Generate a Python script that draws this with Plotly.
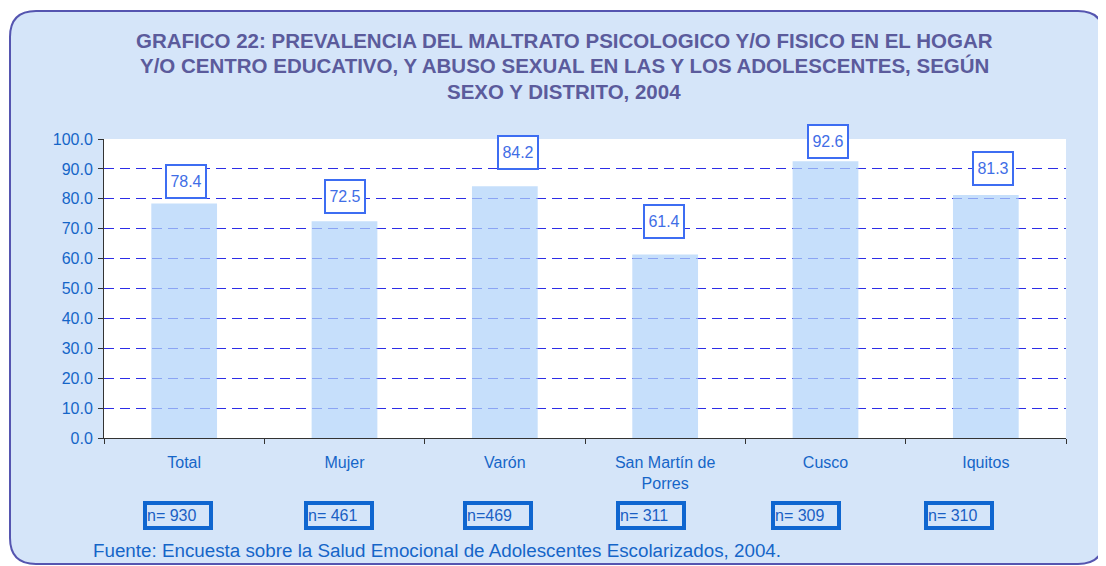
import plotly.graph_objects as go

categories = ["Total", "Mujer", "Varón", "San Martín de<br>Porres", "Cusco", "Iquitos"]
values = [78.4, 72.5, 84.2, 61.4, 92.6, 81.3]
sample_labels = ["n= 930", "n= 461", "n=469", "n= 311", "n= 309", "n= 310"]
title_lines = [
    "GRAFICO 22: PREVALENCIA DEL MALTRATO PSICOLOGICO Y/O FISICO EN EL HOGAR",
    "Y/O CENTRO EDUCATIVO, Y ABUSO SEXUAL EN LAS Y LOS ADOLESCENTES, SEGÚN",
    "SEXO Y DISTRITO, 2004",
]
source_text = "Fuente: Encuesta sobre la Salud Emocional de Adolescentes Escolarizados, 2004."

# style / placement tweaks (pixels)
label_xshift = [2, 0, 13, -1, 2, 7]
label_yshift = [5, 7, 16, 15, 2, 9]
n_xshift = [-6, -6, -7, -14, -20, -27]

OFF = 8  # page body margin offset
W, H = 1106, 566
L, T = 104 - OFF, 139 - OFF
pw, ph = 962, 299
R = W - L - pw
B = H - T - ph

def px_x(p):
    return (p - OFF - L) / pw

def px_y(p):
    return (T + ph - (p - OFF)) / ph

FONT = "Arial, Liberation Sans, sans-serif"
TICK_COLOR = "#1565c8"

fig = go.Figure()
fig.add_trace(go.Bar(
    x=categories, y=values,
    marker=dict(color="rgba(176,210,250,0.72)", line=dict(width=0)),
    width=0.41,
    hoverinfo="skip",
))

annotations = []
for i, (c, v) in enumerate(zip(categories, values)):
    annotations.append(dict(
        x=c, y=v, xref="x", yref="y", text=f"{v:.1f}", showarrow=False,
        yanchor="bottom", xanchor="center",
        xshift=label_xshift[i], yshift=label_yshift[i],
        font=dict(family=FONT, size=16, color="#3f6ee6"),
        bgcolor="white", bordercolor="#3d6df2", borderwidth=2, borderpad=2,
        width=34, height=27,
    ))
for i, (c, n) in enumerate(zip(categories, sample_labels)):
    annotations.append(dict(
        x=c, y=px_y(515), xref="x", yref="paper", text=n, showarrow=False,
        yanchor="middle", xanchor="center", xshift=n_xshift[i],
        align="left",
        font=dict(family=FONT, size=16, color="#1a5fc4"),
        bgcolor="rgba(0,0,0,0)", bordercolor="#0f66d0", borderwidth=4, borderpad=0,
        width=62, height=21,
    ))
for line, yc in zip(title_lines, [40, 65.5, 91]):
    annotations.append(dict(
        x=px_x(564), y=px_y(yc), xref="paper", yref="paper", text=f"<b>{line}</b>",
        showarrow=False, xanchor="center", yanchor="middle",
        font=dict(family=FONT, size=20.5, color="#5b5b9c"),
    ))
annotations.append(dict(
    x=px_x(91), y=px_y(550), xref="paper", yref="paper", text=source_text,
    showarrow=False, xanchor="left", yanchor="middle",
    font=dict(family=FONT, size=18.8, color=TICK_COLOR),
))

# rounded frame
x0, x1 = px_x(10), px_x(1104)
y0, y1 = px_y(564), px_y(11)
r = 26
rx, ry = r / pw, r / ph
frame_path = (
    f"M {x0+rx},{y1} L {x1-rx},{y1} Q {x1},{y1} {x1},{y1-ry} "
    f"L {x1},{y0+ry} Q {x1},{y0} {x1-rx},{y0} "
    f"L {x0+rx},{y0} Q {x0},{y0} {x0},{y0+ry} "
    f"L {x0},{y1-ry} Q {x0},{y1} {x0+rx},{y1} Z"
)
shapes = [
    dict(type="path", path=frame_path, xref="paper", yref="paper",
         fillcolor="#d5e5f9", line=dict(color="#5555b0", width=2), layer="below"),
    dict(type="rect", x0=0, x1=1, y0=0, y1=1, xref="paper", yref="paper",
         fillcolor="white", line=dict(width=0), layer="below"),
]

fig.update_layout(
    width=W, height=H,
    margin=dict(l=L, r=R, t=T, b=B, autoexpand=False),
    paper_bgcolor="white", plot_bgcolor="white",
    showlegend=False,
    annotations=annotations,
    shapes=shapes,
    font=dict(family=FONT, size=16, color=TICK_COLOR),
    bargap=0.59,
)
fig.update_xaxes(
    showline=True, linecolor="#333333", linewidth=1,
    ticks="outside", ticklen=5, tickcolor="#333333", tickson="boundaries",
    showgrid=False, tickfont=dict(family=FONT, size=16, color=TICK_COLOR),
    ticklabelstandoff=10,
)
fig.update_yaxes(
    range=[0, 100], dtick=10, tickformat=".1f",
    showline=True, linecolor="#333333", linewidth=1,
    ticks="outside", ticklen=5, tickcolor="#333333",
    showgrid=True, gridcolor="#2d2de6", gridwidth=1, griddash="10px,6px",
    zeroline=False,
    tickfont=dict(family=FONT, size=16, color=TICK_COLOR),
    ticklabelstandoff=2,
)

fig.write_html("out.html")
